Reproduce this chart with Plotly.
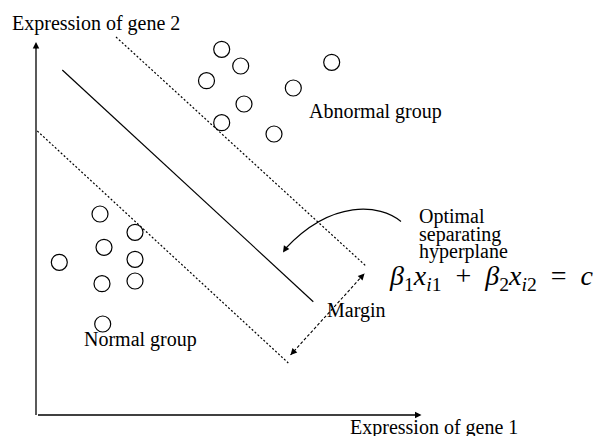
import plotly.graph_objects as go

# ---- data (pixel-space diagram coordinates, y grows downward) ----
abnormal_x = [221.7, 240.7, 206.5, 331.7, 293.3, 244.0, 221.7, 274.0]
abnormal_y = [49.3, 66.0, 80.7, 62.3, 88.0, 104.0, 122.7, 134.0]
normal_x = [100.0, 135.0, 104.0, 59.3, 135.0, 102.0, 135.0, 102.7]
normal_y = [214.0, 232.3, 247.3, 262.3, 259.3, 283.7, 281.0, 324.0]

hyperplane_x = [62.3, 313.3]
hyperplane_y = [70.0, 301.7]
upper_margin_x = [116.0, 366.7]
upper_margin_y = [37.0, 266.7]
lower_margin_x = [37.3, 288.3]
lower_margin_y = [131.0, 363.0]
margin_arrow_x = [290.5, 364.5]
margin_arrow_y = [355.0, 273.5]

axis_origin = [36.0, 415.0]
x_axis_end = 421.5
y_axis_end = 42.0

texts = [
    ("Expression of gene 2", 9.5, 29.5),
    ("Abnormal group", 306.5, 118.3),
    ("Normal group", 81.5, 346.0),
    ("Margin", 325.0, 316.7),
    ("Optimal", 416.5, 223.3),
    ("separating", 416.5, 240.5),
    ("hyperplane", 416.5, 258.0),
    ("Expression of gene 1", 348.3, 434.3),
]
formula = ("<i>β</i><sub>1</sub><i>x</i><sub><i>i</i>1</sub>\u2002+\u2002"
           "<i>β</i><sub>2</sub><i>x</i><sub><i>i</i>2</sub>\u2002=\u2002<i>c</i>")
formula_pos = (386.5, 284.0)

W, H = 598, 436
FONT = "Liberation Serif"

fig = go.Figure()

# main lines
fig.add_trace(go.Scatter(x=hyperplane_x, y=hyperplane_y, mode="lines",
                         line=dict(color="black", width=1.2), hoverinfo="skip"))
for xs, ys in [(upper_margin_x, upper_margin_y), (lower_margin_x, lower_margin_y)]:
    fig.add_trace(go.Scatter(x=xs, y=ys, mode="lines",
                             line=dict(color="black", width=1.2, dash="2px,2px"),
                             hoverinfo="skip"))
fig.add_trace(go.Scatter(x=margin_arrow_x, y=margin_arrow_y, mode="lines",
                         line=dict(color="black", width=1.1, dash="3px,2px"),
                         hoverinfo="skip"))

# axes
fig.add_trace(go.Scatter(x=[axis_origin[0], axis_origin[0]], y=[axis_origin[1], y_axis_end + 4],
                         mode="lines", line=dict(color="black", width=1.3), hoverinfo="skip"))
fig.add_trace(go.Scatter(x=[axis_origin[0] + 2, x_axis_end - 4], y=[axis_origin[1], axis_origin[1]],
                         mode="lines", line=dict(color="black", width=1.3), hoverinfo="skip"))

# points
for xs, ys in [(abnormal_x, abnormal_y), (normal_x, normal_y)]:
    fig.add_trace(go.Scatter(x=xs, y=ys, mode="markers",
                             marker=dict(size=16, color="rgba(0,0,0,0)", symbol="circle",
                                         line=dict(color="black", width=1.2)),
                             hoverinfo="skip"))

# curved arrow
fig.add_shape(type="path", path="M 401,221.5 C 380,204 332,199 285.5,248.5",
              line=dict(color="black", width=1.1), xref="x", yref="y")

def arrowhead(tip, tail):
    fig.add_annotation(x=tip[0], y=tip[1], ax=tail[0], ay=tail[1], xref="x", yref="y",
                       axref="x", ayref="y", text="", showarrow=True, arrowhead=2,
                       arrowsize=1.3, arrowwidth=1, arrowcolor="black", standoff=0)

arrowhead((283, 252.5), (287, 246.5))
arrowhead((margin_arrow_x[1], margin_arrow_y[1]), (margin_arrow_x[1] - 5, margin_arrow_y[1] + 5.5))
arrowhead((margin_arrow_x[0], margin_arrow_y[0]), (margin_arrow_x[0] + 5, margin_arrow_y[0] - 5.5))
arrowhead((axis_origin[0], y_axis_end), (axis_origin[0], y_axis_end + 8))
arrowhead((x_axis_end, axis_origin[1]), (x_axis_end - 8, axis_origin[1]))

for t, x, base in texts:
    fig.add_annotation(x=x, y=base - 6.5, text=t, showarrow=False, xref="x", yref="y",
                       xanchor="left", yanchor="middle",
                       font=dict(family=FONT, size=20, color="black"))
fig.add_annotation(x=formula_pos[0], y=formula_pos[1] - 7, text=formula, showarrow=False,
                   xref="x", yref="y", xanchor="left", yanchor="middle",
                   font=dict(family=FONT, size=28, color="black"))

fig.update_layout(width=W, height=H, margin=dict(l=0, r=0, t=0, b=0),
                  paper_bgcolor="white", plot_bgcolor="white", showlegend=False,
                  xaxis=dict(range=[0, W], visible=False, fixedrange=True),
                  yaxis=dict(range=[H, 0], visible=False, fixedrange=True))

fig.write_html("out.html", config={"displayModeBar": False},
               post_script="document.body.style.margin='0';document.body.style.overflow='hidden';")
